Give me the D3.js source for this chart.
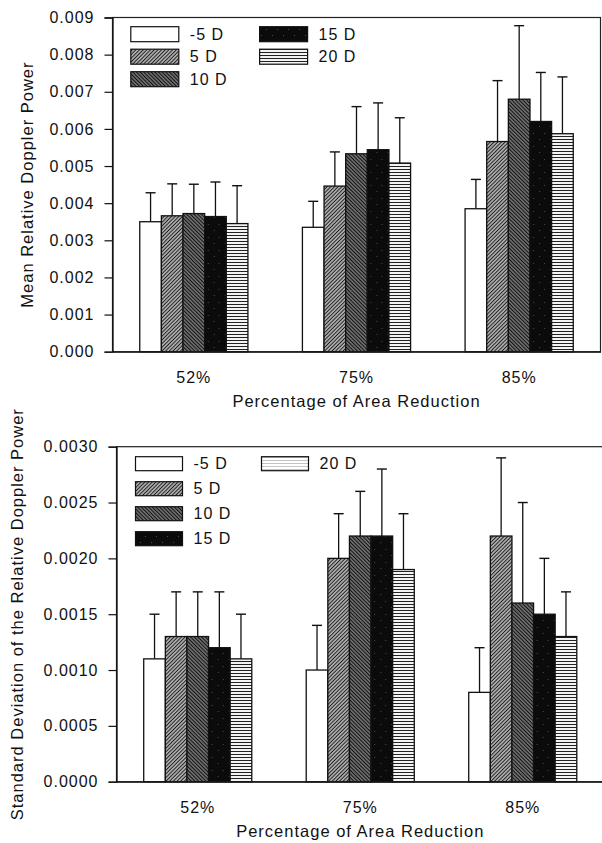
<!DOCTYPE html>
<html>
<head>
<meta charset="utf-8">
<script src="https://cdn.jsdelivr.net/npm/d3@7"></script>
<style>
  html, body { margin: 0; padding: 0; background: #fff; }
  svg { display: block; font-family: "Liberation Sans", Arial, Helvetica, sans-serif; }
</style>
</head>
<body>
<svg id="chart" width="602" height="843"></svg>
<script>
// Stenosis groups and refraction settings
const categories = ["52%", "75%", "85%"];
const seriesNames = ["-5 D", "5 D", "10 D", "15 D", "20 D"];

// Mean relative Doppler power (rows: categories, columns: series)
const meanPower = [
  [0.00350, 0.00366, 0.00372, 0.00364, 0.00345],
  [0.00335, 0.00446, 0.00533, 0.00544, 0.00508],
  [0.00385, 0.00566, 0.00680, 0.00620, 0.00587]
];
const meanPowerErr = [
  [0.00078, 0.00086, 0.00079, 0.00093, 0.00102],
  [0.00070, 0.00092, 0.00127, 0.00126, 0.00122],
  [0.00079, 0.00164, 0.00198, 0.00132, 0.00153]
];

// Standard deviation of the relative Doppler power
const sdPower = [
  [0.0011, 0.0013, 0.0013, 0.0012, 0.0011],
  [0.0010, 0.0020, 0.0022, 0.0022, 0.0019],
  [0.0008, 0.0022, 0.0016, 0.0015, 0.0013]
];
const sdPowerErr = [
  [0.0004, 0.0004, 0.0004, 0.0005, 0.0004],
  [0.0004, 0.0004, 0.0004, 0.0006, 0.0005],
  [0.0004, 0.0007, 0.0009, 0.0005, 0.0004]
];

const meanTicks = [0, 0.001, 0.002, 0.003, 0.004, 0.005, 0.006, 0.007, 0.008, 0.009];
const sdTicks = [0, 0.0005, 0.0010, 0.0015, 0.0020, 0.0025, 0.0030];

const xTitle = "Percentage of Area Reduction";
const meanTitle = "Mean Relative Doppler Power";
const sdTitle = "Standard Deviation of the Relative Doppler Power";

const svg = d3.select("#chart");
const defs = svg.append("defs");

// Fill patterns for the five series
function hatch(id, angle, gap, width, bg, fg) {
  const p = defs.append("pattern")
    .attr("id", id).attr("patternUnits", "userSpaceOnUse")
    .attr("width", gap).attr("height", gap)
    .attr("patternTransform", `rotate(${angle})`);
  p.append("rect").attr("width", gap).attr("height", gap).attr("fill", bg);
  p.append("line").attr("x1", gap / 2).attr("x2", gap / 2)
    .attr("y1", -1).attr("y2", gap + 1)
    .attr("stroke", fg).attr("stroke-width", width);
}
hatch("p5", 45, 2.6, 1.0, "#b4b4b4", "#1e1e1e");
hatch("p10", -45, 2.6, 1.3, "#8a8a8a", "#0e0e0e");
hatch("p20", 90, 3, 1.1, "#ffffff", "#222");
hatch("p20light", 90, 3, 1, "#ffffff", "#c4c4c4");

const speck = defs.append("pattern")
  .attr("id", "p15").attr("patternUnits", "userSpaceOnUse")
  .attr("width", 11).attr("height", 13);
speck.append("rect").attr("width", 11).attr("height", 13).attr("fill", "#0b0b0b");
[[2, 3], [8, 9]].forEach(([x, y]) =>
  speck.append("rect").attr("x", x).attr("y", y).attr("width", 1).attr("height", 1).attr("fill", "#4a4a4a"));

const fills = ["#ffffff", "url(#p5)", "url(#p10)", "url(#p15)", "url(#p20)"];

function drawPanel(cfg) {
  const g = svg.append("g");
  const x0 = d3.scaleBand().domain(categories)
    .range([cfg.left, cfg.right]).paddingInner(0.335).paddingOuter(0.1675);
  const x1 = d3.scaleBand().domain(seriesNames).range([0, x0.bandwidth()]);
  const y = d3.scaleLinear().domain([0, cfg.ymax]).range([cfg.bottom, cfg.top]);

  // Bars with upper error bars
  categories.forEach((cat, ci) => {
    const grp = g.append("g").attr("transform", `translate(${x0(cat)},0)`);
    seriesNames.forEach((s, si) => {
      const v = cfg.values[ci][si];
      const e = cfg.errors[ci][si];
      const cx = x1(s) + x1.bandwidth() / 2;
      grp.append("line")
        .attr("x1", cx).attr("x2", cx)
        .attr("y1", y(v)).attr("y2", y(v + e))
        .attr("stroke", "#111").attr("stroke-width", 1.3);
      grp.append("line")
        .attr("x1", cx - 5).attr("x2", cx + 5)
        .attr("y1", y(v + e)).attr("y2", y(v + e))
        .attr("stroke", "#111").attr("stroke-width", 1.4);
      grp.append("rect")
        .attr("x", x1(s)).attr("y", y(v))
        .attr("width", x1.bandwidth()).attr("height", y(0) - y(v))
        .attr("fill", fills[si])
        .attr("stroke", "#111").attr("stroke-width", 1.3);
    });
  });

  // Plot frame
  g.append("rect")
    .attr("x", cfg.left).attr("y", cfg.top)
    .attr("width", cfg.right - cfg.left).attr("height", cfg.bottom - cfg.top)
    .attr("fill", "none").attr("stroke", "#222").attr("stroke-width", 1.2);

  // Y axis
  const ya = g.append("g").attr("transform", `translate(${cfg.left},0)`)
    .call(d3.axisLeft(y).tickValues(cfg.ticks).tickFormat(d3.format(cfg.fmt))
      .tickSize(8).tickPadding(10));
  ya.select(".domain").attr("stroke", "#111").attr("stroke-width", 1.3);
  ya.selectAll(".tick line").attr("stroke", "#111").attr("stroke-width", 1.2);
  ya.selectAll(".tick text").attr("font-size", 16).attr("letter-spacing", 1)
    .attr("fill", "#111").attr("font-family", null);

  // X axis labels
  const xa = g.append("g").attr("transform", `translate(0,${cfg.bottom})`)
    .call(d3.axisBottom(x0).tickSize(0).tickPadding(20));
  xa.select(".domain").attr("stroke", "#111").attr("stroke-width", 1.3);
  xa.selectAll(".tick text").attr("font-size", 16).attr("letter-spacing", 1)
    .attr("fill", "#111").attr("font-family", null);

  // Axis titles
  g.append("text")
    .attr("x", (cfg.left + cfg.right) / 2).attr("y", cfg.bottom + 55.5)
    .attr("text-anchor", "middle").attr("font-size", 16.5).attr("letter-spacing", 1)
    .attr("fill", "#111").text(xTitle);
  g.append("text")
    .attr("transform", `translate(${cfg.titleX},${(cfg.top + cfg.bottom) / 2}) rotate(-90)`)
    .attr("text-anchor", "middle").attr("font-size", 16.5).attr("letter-spacing", 1)
    .attr("fill", "#111").text(cfg.title);

  // Legend
  const lg = g.append("g");
  seriesNames.forEach((s, si) => {
    const [col, row] = cfg.legendPos[si];
    const lx = cfg.legendCols[col];
    const ly = cfg.legendTop + row * cfg.legendStep;
    lg.append("rect")
      .attr("x", lx).attr("y", ly)
      .attr("width", cfg.swatchW).attr("height", cfg.swatchH)
      .attr("fill", cfg.legendFills ? cfg.legendFills[si] : fills[si])
      .attr("stroke", "#111").attr("stroke-width", 1.2);
    lg.append("text")
      .attr("x", lx + cfg.swatchW + 11).attr("y", ly + cfg.swatchH / 2)
      .attr("dy", "0.36em").attr("font-size", 16).attr("letter-spacing", 1)
      .attr("fill", "#111").text(s);
  });
}

drawPanel({
  left: 112.5, right: 600.5, top: 17.5, bottom: 351.7,
  ymax: 0.009, ticks: meanTicks, fmt: ".3f",
  values: meanPower, errors: meanPowerErr,
  title: meanTitle, titleX: 33,
  legendCols: [130.8, 259.6], legendTop: 26.7, legendStep: 22.5,
  swatchW: 48, swatchH: 15,
  legendPos: [[0, 0], [0, 1], [0, 2], [1, 0], [1, 1]]
});

drawPanel({
  left: 116.5, right: 604, top: 446.7, bottom: 781.7,
  ymax: 0.003, ticks: sdTicks, fmt: ".4f",
  values: sdPower, errors: sdPowerErr,
  title: sdTitle, titleX: 23,
  legendCols: [135.5, 261.5], legendTop: 456.7, legendStep: 25,
  swatchW: 47, swatchH: 14,
  legendPos: [[0, 0], [0, 1], [0, 2], [0, 3], [1, 0]],
  legendFills: ["#ffffff", "url(#p5)", "url(#p10)", "url(#p15)", "url(#p20light)"]
});
</script>
</body>
</html>
